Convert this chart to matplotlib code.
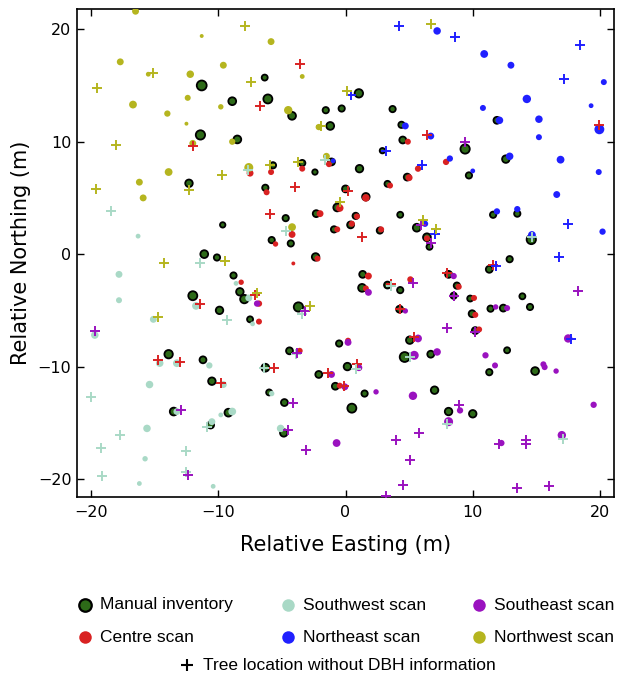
import numpy as np
import matplotlib
matplotlib.use("Agg")
import matplotlib.pyplot as plt
from matplotlib.lines import Line2D

# ---- tree positions (m) and DBH (cm) ----
manual_x = [-6.35, -11.3, -8.9, -6.1, -4.2, -1.55, -0.3, -1.2, -11.4, -8.5, -5.7, -3.4, -2.4, -1.1,
            -12.3, -6.3, -2.3, -0.65, -9.65, -4.7, -0.9, -5.8, -4.3, 1.05, 3.7, 11.9, 4.4, 4.5, 9.4,
            2.9, 1.1, 12.6, 9.7, 4.85, 3.3, 0.0, 1.6, 4.3, 11.6, 13.5, 0.8, 0.4, 2.7, 5.6, 6.4, 6.6,
            14.6, -11.1, -10.1, -8.8, -8.3, -7.95, -12.0, -9.9, -7.5, -3.7, -0.5, -13.9, -11.2, -4.4,
            -6.3, -2.1, -0.8, -10.5, -6.0, -4.8, -13.5, -9.2, -10.6, -4.85, 12.9, 11.3, 1.35, 1.3,
            3.3, 4.3, 8.1, 8.75, 8.5, 9.8, 4.25, 9.95, 11.4, 12.4, 13.9, 14.5, 10.2, 5.05, 12.7, 6.7,
            4.65, 0.15, 11.3, 14.9, 1.5, 7.0, 0.5, 8.1, 10.0, -2.35]
manual_y = [15.7, 15.0, 13.6, 13.8, 12.3, 12.8, 12.95, 11.4, 10.6, 10.2, 7.9, 8.1, 7.3, 8.2,
            6.3, 5.9, 3.6, 4.15, 2.6, 3.2, 2.2, 1.25, 0.95, 14.3, 12.9, 11.9, 11.5, 10.15, 9.35,
            9.2, 7.6, 8.45, 7.0, 6.85, 6.25, 5.8, 5.1, 3.5, 3.5, 3.6, 3.4, 2.6, 2.1, 2.35, 1.5, 0.65,
            1.3, 0.0, -0.3, -1.9, -3.35, -4.0, -3.7, -5.0, -5.8, -4.7, -7.95, -8.9, -9.4, -8.6,
            -10.1, -10.7, -11.75, -11.3, -12.3, -13.2, -14.0, -14.1, -15.2, -15.9, -0.45, -1.35, -1.8, -3.0,
            -2.75, -3.2, -1.8, -2.8, -3.7, -3.95, -4.9, -5.3, -4.85, -4.8, -3.75, -4.7, -6.8, -7.65, -8.55, -8.9,
            -9.15, -10.0, -10.5, -10.4, -12.4, -12.1, -13.7, -14.0, -14.2, -0.25]
manual_dbh = [20, 33, 26, 30, 26, 21, 21, 26, 31, 26, 21, 21, 18, 23,
              25, 21, 23, 26, 18, 21, 21, 21, 21, 28, 21, 23, 21, 23, 31,
              18, 25, 25, 21, 23, 20, 23, 25, 20, 21, 21, 21, 23, 21, 26, 26, 20,
              31, 26, 21, 21, 25, 28, 30, 25, 20, 31, 21, 28, 23, 23,
              26, 23, 23, 25, 20, 23, 26, 26, 23, 25, 21, 23, 23, 26,
              23, 21, 23, 21, 21, 20, 23, 23, 21, 23, 20, 21, 23, 25, 20, 23,
              33, 25, 21, 26, 21, 25, 30, 25, 25, 25]

centre_x = [-7.5, -5.85, -3.4, -1.3, -6.2, -2.0, -4.2, -0.65, -5.5, 4.9, 5.7, 7.9, 5.0, 3.5, 1.6,
            -0.45, 0.9, 0.5, 2.8, 6.4, -8.2, -6.8, -6.8, -3.6, -0.45, 1.8, 1.6, 5.1, 8.9, 10.1,
            10.2, 10.5, 0.2, -4.1, -2.2]
centre_y = [7.2, 7.3, 7.6, 8.0, 5.5, 3.6, 1.75, 2.2, 0.9, 10.0, 7.6, 8.2, 6.8, 6.1, 5.0,
            4.1, 3.35, 2.7, 2.2, 1.4, -2.5, -4.4, -6.0, -8.6, -11.7, -1.95, -3.05, -2.25, -2.9, -3.9,
            -5.4, -6.7, -7.7, -0.83, -0.4]
centre_dbh = [23, 20, 20, 20, 20, 23, 23, 20, 18, 20, 21, 21, 23, 20, 25,
              25, 20, 20, 20, 20, 18, 21, 20, 20, 20, 23, 20, 21, 20, 20,
              20, 20, 20, 13, 20]

southwest_x = [-16.3, -17.8, -17.8, -8.6, -7.6, -11.75, -15.1, -7.3, -19.7, -14.6, -13.25, -10.7,
               -9.6, -15.4, -5.8, -13.25, -8.9, -9.8, -10.5, -15.6, -5.1, -15.75, -16.2, -10.4]
southwest_y = [1.6, -1.8, -4.1, -2.6, -3.9, -4.6, -5.8, -6.2, -7.2, -9.7, -9.7, -9.9,
               -11.6, -11.6, -12.4, -14.0, -14.0, -14.3, -14.9, -15.5, -15.5, -18.2, -20.4, -20.65]
southwest_dbh = [16, 23, 20, 16, 23, 26, 23, 16, 25, 25, 26, 21,
                 23, 25, 18, 23, 26, 16, 23, 25, 25, 18, 16, 16]

southeast_x = [-6.95, -1.1, -0.7, 1.8, 8.5, 4.7, 11.8, 12.7, 0.2, 5.7, 17.5, 7.2, 5.4, 11.0,
               1.05, 11.75, 15.55, 15.65, 16.55, -0.05, 2.4, 5.3, 9.0, 19.5, 8.1, 12.25, 17.0]
southeast_y = [-4.4, -10.7, -16.8, -3.4, -1.95, -5.05, -4.7, -4.8, -7.85, -7.5, -7.5, -8.7, -9.0, -9.0,
               -10.1, -9.9, -9.8, -10.05, -10.4, -11.8, -12.25, -12.6, -13.9, -13.4, -14.9, -16.8, -16.1]
southeast_dbh = [21, 23, 26, 23, 21, 18, 18, 20, 23, 26, 28, 25, 30, 21,
                 23, 20, 20, 20, 18, 23, 18, 28, 21, 21, 30, 21, 28]

northeast_x = [-0.97, 7.2, 10.9, 13.0, 20.3, 14.25, 10.8, 19.3, 12.1, 15.2, 4.7, 15.2, 19.95,
               6.7, 12.9, 16.9, 8.2, 10.0, 19.9, 16.6, 11.9, 13.5, 20.2, 6.25, 14.65]
northeast_y = [8.3, 19.85, 17.8, 16.8, 15.3, 13.8, 13.0, 13.2, 11.9, 12.0, 11.4, 10.4, 11.1,
               10.5, 8.7, 8.4, 8.5, 7.4, 7.3, 5.3, 3.8, 4.0, 2.0, 2.7, 1.7]
northeast_dbh = [16, 25, 26, 23, 20, 28, 20, 16, 25, 25, 23, 20, 33,
                 23, 25, 26, 21, 16, 20, 23, 21, 21, 21, 21, 26]

northwest_x = [-16.5, -11.3, -5.85, -17.7, -9.6, -15.5, -12.2, -3.4, -12.4, -16.7, -9.8, -14.0,
               -4.5, -12.5, -2.1, -8.9, -12.0, -7.6, -1.5, -13.9, -16.2, -15.9, -4.2]
northwest_y = [21.6, 19.4, 18.9, 17.1, 16.8, 16.0, 16.0, 15.8, 13.9, 13.3, 13.1, 12.5,
               12.8, 11.6, 11.3, 10.0, 9.85, 7.7, 8.7, 7.3, 6.4, 5.0, 2.4]
northwest_dbh = [23, 13, 23, 23, 23, 16, 25, 16, 20, 26, 18, 21,
                 28, 13, 21, 21, 23, 30, 23, 26, 23, 23, 26]

# ---- tree locations detected without a DBH estimate ----
centre_nodbh_x = [-3.6, -6.7, -12.0, -4.0, -5.95, 19.95, 6.4, 0.2, 1.3, -7.1, -11.4, -14.7, -13.0,
                  -5.6, -1.4, -9.8, 11.6, 3.55, 8.0, 8.5, 4.25, 5.4, 0.9, -0.13]
centre_nodbh_y = [16.9, 13.2, 9.6, 6.0, 3.6, 11.5, 10.6, 5.6, 1.5, -3.6, -4.4, -9.4, -9.6,
                  -10.1, -10.6, -11.45, -1.0, -2.7, -1.7, -3.7, -4.85, -7.4, -9.8, -11.75]

southwest_nodbh_x = [-7.7, -1.6, -18.45, -4.7, -11.4, -9.3, -3.4, -3.9, -6.4, -20.0, -10.9, -17.7,
                     -19.2, -12.5, -12.5, -19.1, 14.65, 3.55, 5.05, 0.8, 8.0, 17.1]
southwest_nodbh_y = [7.5, 8.4, 3.8, 2.1, -0.8, -5.9, -5.3, -8.85, -10.1, -12.7, -15.4, -16.1,
                     -17.2, -17.5, -19.4, -19.7, 1.5, -2.85, -9.15, -10.2, -15.1, -16.4]

southeast_nodbh_x = [9.4, 5.9, 6.7, -3.15, -3.8, -4.1, -12.9, -4.5, -3.1, -12.4, -19.7, 5.3, 8.5,
                     10.2, 8.0, 8.9, 18.25, 5.8, 3.95, 5.1, 12.1, 14.2, 14.2, 4.55, 3.15, 13.5, 16.0]
southeast_nodbh_y = [10.0, 2.6, 0.95, -5.1, -8.8, -13.2, -13.9, -15.6, -17.4, -19.6, -6.8, -2.55, -3.75,
                     -6.9, -6.55, -13.4, -3.3, -15.9, -16.5, -18.3, -16.9, -16.55, -16.9, -20.5, -21.5, -20.8, -20.6]

northeast_nodbh_x = [4.2, 8.6, 18.4, 17.2, 0.4, 3.15, 6.0, 17.45, 7.0, 16.75, 11.8, 17.7]
northeast_nodbh_y = [20.3, 19.3, 18.6, 15.6, 14.15, 9.2, 7.9, 2.7, 1.75, -0.3, -1.05, -7.55]

northwest_nodbh_x = [-7.9, 6.7, -15.1, -19.55, -7.4, -1.9, -18.0, -5.9, -3.7, -9.7, -12.3, -19.6,
                     0.13, -0.4, 6.1, 7.1, -14.3, -9.5, -6.95, -2.8, -14.7]
northwest_nodbh_y = [20.3, 20.5, 16.1, 14.8, 15.3, 11.4, 9.7, 7.9, 8.2, 7.0, 5.7, 5.8,
                     14.5, 4.6, 3.0, 2.2, -0.8, -0.6, -3.5, -4.6, -5.6]

# ---- styling ----
C_MANUAL = "#2d6a18"
C_CENTRE = "#d92222"
C_SW = "#a9d9c6"
C_SE = "#9a12bf"
C_NE = "#2020ff"
C_NW = "#b5b51f"

DPI = 100
PX_PER_CM = 0.3          # marker diameter (pixels) per cm of DBH


def dbh_to_area(dbh):
    d_pt = np.asarray(dbh, dtype=float) * PX_PER_CM * 72.0 / DPI
    return d_pt ** 2


fig = plt.figure(figsize=(6.19, 6.76), dpi=DPI)
ax = fig.add_axes([77 / 619, 1 - 497 / 676, (614 - 77) / 619, (497 - 9) / 676])

ax.scatter(manual_x, manual_y, s=dbh_to_area(manual_dbh), c=C_MANUAL,
           edgecolors="black", linewidths=1.3, zorder=2)

scans = [
    (centre_x, centre_y, centre_dbh, C_CENTRE),
    (southwest_x, southwest_y, southwest_dbh, C_SW),
    (southeast_x, southeast_y, southeast_dbh, C_SE),
    (northeast_x, northeast_y, northeast_dbh, C_NE),
    (northwest_x, northwest_y, northwest_dbh, C_NW),
]
for sx, sy, sd, col in scans:
    ax.scatter(sx, sy, s=dbh_to_area(sd), c=col, edgecolors="none", zorder=3)

nodbh = [
    (centre_nodbh_x, centre_nodbh_y, C_CENTRE),
    (southwest_nodbh_x, southwest_nodbh_y, C_SW),
    (southeast_nodbh_x, southeast_nodbh_y, C_SE),
    (northeast_nodbh_x, northeast_nodbh_y, C_NE),
    (northwest_nodbh_x, northwest_nodbh_y, C_NW),
]
for px, py, col in nodbh:
    ax.scatter(px, py, s=52, marker="+", c=col, linewidths=1.4, zorder=4)

ax.set_xlim(-21.1, 21.1)
ax.set_ylim(-21.6, 21.8)
ax.set_xticks([-20, -10, 0, 10, 20])
ax.set_yticks([-20, -10, 0, 10, 20])
ax.tick_params(direction="in", top=True, right=True, length=5, width=1,
               labelsize=11.5, colors="black")
ax.tick_params(axis="x", pad=6)
ax.tick_params(axis="y", pad=4)
for sp in ax.spines.values():
    sp.set_linewidth(1.2)

ax.set_xlabel("Relative Easting (m)", fontsize=15)
ax.set_ylabel("Relative Northing (m)", fontsize=15)
ax.xaxis.set_label_coords(0.5, -0.078)
ax.yaxis.set_label_coords(-0.085, 0.5)

# ---- legend below the plot ----
LEG_FONT = dict(family=["Liberation Sans", "DejaVu Sans"], fontsize=12.5, va="center")
W, H = 619.0, 676.0
legend_items = [
    ("Manual inventory", C_MANUAL, True, 85, 605),
    ("Centre scan", C_CENTRE, False, 85, 637),
    ("Southwest scan", C_SW, False, 288, 605),
    ("Northeast scan", C_NE, False, 288, 637),
    ("Southeast scan", C_SE, False, 479, 605),
    ("Northwest scan", C_NW, False, 479, 637),
]
for label, col, edged, mx, my in legend_items:
    fig.add_artist(Line2D([mx / W], [1 - my / H], transform=fig.transFigure,
                          marker="o", markersize=9, linestyle="none",
                          markerfacecolor=col,
                          markeredgecolor="black" if edged else col,
                          markeredgewidth=1.6 if edged else 0))
    fig.text((mx + 15) / W, 1 - my / H, label, **LEG_FONT)

fig.add_artist(Line2D([187 / W], [1 - 665 / H], transform=fig.transFigure,
                      marker="+", markersize=8, markeredgewidth=1.5,
                      color="black", linestyle="none"))
fig.text(203 / W, 1 - 666 / H, "Tree location without DBH information", **LEG_FONT)

fig.savefig("out.png", dpi=DPI)
